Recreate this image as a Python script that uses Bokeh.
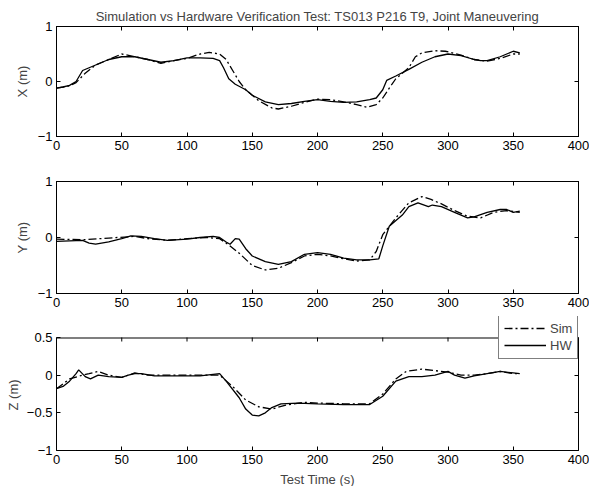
from bokeh.plotting import figure
from bokeh.layouts import column
from bokeh.models import LinearAxis, FixedTicker, Range1d, Legend, LegendItem, Title
from bokeh.embed import file_html
from bokeh.resources import INLINE

TITLE = "Simulation vs Hardware Verification Test: TS013 P216 T9, Joint Maneuvering"
X_LABEL = "Test Time (s)"
X_TICKS = [0, 50, 100, 150, 200, 250, 300, 350, 400]

# X panel
x_hw_t = [0, 5, 10, 15, 20, 25, 30, 40, 50, 60, 70, 80, 90, 100, 110, 120, 125, 128, 132, 137, 145, 150, 160, 170, 180, 190, 200, 210, 220, 230, 240, 245, 250, 253, 260, 270, 280, 290, 300, 310, 320, 325, 330, 340, 350, 355]
x_hw_v = [-0.12, -0.10, -0.07, 0.0, 0.20, 0.25, 0.30, 0.40, 0.45, 0.45, 0.40, 0.35, 0.38, 0.43, 0.43, 0.42, 0.38, 0.25, 0.05, -0.05, -0.15, -0.25, -0.37, -0.42, -0.40, -0.36, -0.33, -0.36, -0.38, -0.37, -0.33, -0.30, -0.15, 0.02, 0.10, 0.22, 0.35, 0.45, 0.50, 0.47, 0.40, 0.38, 0.38, 0.45, 0.55, 0.52]
x_sim_t = [0, 10, 15, 22, 30, 40, 50, 60, 70, 80, 90, 100, 110, 117, 125, 130, 135, 140, 145, 155, 165, 170, 180, 190, 200, 210, 220, 230, 238, 245, 250, 255, 260, 270, 275, 280, 290, 298, 310, 320, 330, 340, 350, 355]
x_sim_v = [-0.12, -0.08, -0.02, 0.15, 0.30, 0.40, 0.50, 0.45, 0.40, 0.33, 0.38, 0.42, 0.50, 0.53, 0.50, 0.40, 0.20, 0.0, -0.15, -0.35, -0.48, -0.50, -0.45, -0.38, -0.32, -0.33, -0.37, -0.42, -0.47, -0.42, -0.30, -0.12, 0.05, 0.25, 0.45, 0.52, 0.56, 0.55, 0.48, 0.40, 0.37, 0.42, 0.50, 0.50]

# Y panel
y_hw_t = [0, 10, 20, 25, 30, 40, 50, 57, 65, 75, 85, 100, 110, 120, 125, 130, 133, 137, 140, 145, 150, 160, 170, 180, 190, 200, 210, 220, 230, 240, 247, 250, 255, 265, 270, 277, 285, 288, 295, 305, 315, 320, 330, 340, 345, 350, 355]
y_hw_v = [-0.07, -0.06, -0.05, -0.10, -0.12, -0.08, -0.02, 0.03, 0.02, -0.02, -0.05, -0.03, 0.0, 0.02, 0.0, -0.08, -0.12, -0.02, -0.03, -0.20, -0.33, -0.43, -0.48, -0.43, -0.30, -0.27, -0.30, -0.37, -0.40, -0.40, -0.38, -0.15, 0.20, 0.40, 0.55, 0.62, 0.55, 0.58, 0.55, 0.45, 0.35, 0.37, 0.45, 0.50, 0.50, 0.45, 0.47]
y_sim_t = [0, 20, 40, 60, 70, 85, 100, 115, 125, 133, 140, 150, 160, 170, 180, 190, 200, 210, 220, 230, 240, 245, 250, 260, 270, 280, 287, 295, 305, 315, 325, 335, 345, 355]
y_sim_v = [-0.03, -0.04, -0.01, 0.02, -0.02, -0.05, -0.02, 0.0, -0.02, -0.15, -0.28, -0.50, -0.58, -0.55, -0.45, -0.33, -0.30, -0.33, -0.38, -0.42, -0.40, -0.25, 0.05, 0.35, 0.62, 0.73, 0.68, 0.60, 0.48, 0.38, 0.35, 0.45, 0.48, 0.45]

# Z panel
z_hw_t = [0, 5, 10, 15, 17, 22, 26, 32, 40, 50, 55, 60, 65, 75, 90, 110, 125, 130, 140, 145, 150, 155, 160, 165, 172, 185, 200, 220, 240, 250, 260, 270, 280, 290, 300, 305, 313, 320, 330, 340, 350, 355]
z_hw_v = [-0.18, -0.15, -0.08, 0.02, 0.07, -0.02, -0.05, 0.0, -0.02, -0.03, 0.0, 0.02, 0.02, -0.01, -0.01, -0.01, 0.02, -0.08, -0.30, -0.45, -0.53, -0.54, -0.50, -0.43, -0.38, -0.37, -0.38, -0.39, -0.39, -0.28, -0.08, -0.02, -0.02, 0.0, 0.05, 0.0, -0.04, -0.01, 0.02, 0.05, 0.03, 0.02]
z_sim_t = [0, 10, 20, 25, 32, 40, 50, 60, 70, 100, 125, 135, 145, 155, 165, 175, 190, 200, 220, 240, 250, 260, 268, 280, 290, 300, 310, 320, 330, 340, 350, 355]
z_sim_v = [-0.18, -0.05, 0.0, 0.02, 0.05, 0.0, -0.03, 0.03, 0.0, 0.0, 0.0, -0.15, -0.33, -0.42, -0.45, -0.40, -0.36, -0.37, -0.38, -0.38, -0.25, -0.05, 0.05, 0.08, 0.06, 0.04, 0.0, 0.0, 0.02, 0.05, 0.02, 0.02]

FONT = "Liberation Sans"
FS = "13px"
DASHDOT = "8 3 2 3"
LW = 1.3
FW = 522
LEFT = 56
RIGHT = 589 - LEFT - FW
X0, X1 = 0, 400


def style_axis(ax, ticks, show_labels=True):
    ax.ticker = FixedTicker(ticks=ticks)
    ax.major_tick_in = 4
    ax.major_tick_out = 0
    ax.minor_tick_line_color = None
    ax.axis_line_color = "black"
    ax.major_tick_line_color = "black"
    ax.major_label_text_font = FONT
    ax.major_label_text_font_size = FS
    ax.major_label_text_color = "black"
    ax.major_label_standoff = 4
    ax.axis_label_text_font = FONT
    ax.axis_label_text_font_size = FS
    ax.axis_label_text_font_style = "normal"
    ax.axis_label_standoff = 5
    if not show_labels:
        ax.major_label_overrides = {t: "" for t in ticks}
        ax.major_label_standoff = 0


def base(fh, top, bottom, yr):
    p = figure(frame_width=FW, frame_height=fh, width=589, height=top + fh + bottom,
               output_backend="svg", toolbar_location=None,
               x_range=Range1d(X0, X1), y_range=Range1d(*yr),
               min_border_left=LEFT, min_border_right=RIGHT, min_border_top=top, min_border_bottom=bottom)
    p.xgrid.visible = False
    p.ygrid.visible = False
    p.background_fill_color = "white"
    p.border_fill_color = "white"
    return p


def panel(hw_t, hw_v, sim_t, sim_v, ylabel, yr, yticks, top, fh, bottom, title=None):
    p = base(fh, top, bottom, yr)
    p.outline_line_color = "black"
    p.outline_line_width = 1
    style_axis(p.xaxis[0], X_TICKS)
    style_axis(p.yaxis[0], yticks)
    p.yaxis[0].axis_label = ylabel
    ta = LinearAxis()
    style_axis(ta, X_TICKS, False)
    p.add_layout(ta, "above")
    ra = LinearAxis()
    style_axis(ra, yticks, False)
    p.add_layout(ra, "right")
    if title:
        p.title.text = title
        p.title.align = "center"
        p.title.text_font = FONT
        p.title.text_font_size = FS
        p.title.text_font_style = "normal"
        p.title.offset = 0
        p.title.standoff = 6
    p.line(sim_t, sim_v, line_color="black", line_width=LW, line_dash=DASHDOT)
    p.line(hw_t, hw_v, line_color="black", line_width=LW)
    return p


p1 = panel(x_hw_t, x_hw_v, x_sim_t, x_sim_v, "X (m)", (-1, 1), [-1, 0, 1], 26, 110, 25, title=TITLE)
p2 = panel(y_hw_t, y_hw_v, y_sim_t, y_sim_v, "Y (m)", (-1, 1), [-1, 0, 1], 20, 112, 22)

# Z panel: frame extended upward so the legend can overlap the top edge of the box
Z_LO, Z_HI = -1, 0.5
Z_TICKS = [-1, -0.5, 0, 0.5]
BOX_H = 113
EXTRA = 21
per_px = (Z_HI - Z_LO) / BOX_H
z_top = Z_HI + EXTRA * per_px
p3 = base(BOX_H + EXTRA, 1, 36, (Z_LO, z_top))
p3.outline_line_color = None
style_axis(p3.xaxis[0], X_TICKS)
p3.xaxis[0].axis_label = X_LABEL
style_axis(p3.yaxis[0], Z_TICKS)
p3.yaxis[0].bounds = (Z_LO, Z_HI)
ra3 = LinearAxis(bounds=(Z_LO, Z_HI))
style_axis(ra3, Z_TICKS, False)
p3.add_layout(ra3, "right")
p3.add_layout(Title(text="Z (m)", align="left", offset=40, text_font=FONT, text_font_size=FS,
                    text_font_style="normal", standoff=5), "left")
# top edge of the axes box with inward ticks
p3.line(x=[X0, X1], y=[Z_HI - 0.5 * per_px, Z_HI - 0.5 * per_px], line_color="black", line_width=1.2)
p3.multi_line(xs=[[t, t] for t in X_TICKS], ys=[[Z_HI, Z_HI - 4 * per_px] for _ in X_TICKS],
              line_color="black", line_width=1)
rs = p3.line(z_sim_t, z_sim_v, line_color="black", line_width=LW, line_dash=DASHDOT)
rh = p3.line(z_hw_t, z_hw_v, line_color="black", line_width=LW)

leg = Legend(items=[LegendItem(label="Sim", renderers=[rs]), LegendItem(label="HW", renderers=[rh])],
             location=(FW - 80, 91), orientation="vertical",
             border_line_color="black", border_line_width=1, background_fill_alpha=1,
             label_text_font=FONT, label_text_font_size=FS,
             glyph_width=42, glyph_height=16, label_height=16, padding=5, spacing=1, margin=0,
             label_standoff=4)
p3.add_layout(leg, "center")

layout = column(p1, p2, p3, spacing=0)
open("out.html", "w").write(file_html(layout, INLINE))
